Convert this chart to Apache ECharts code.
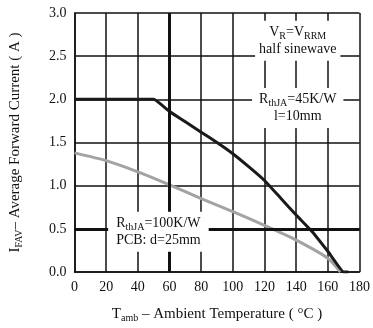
<!DOCTYPE html>
<html>
<head>
<meta charset="utf-8">
<script src="https://cdn.jsdelivr.net/npm/echarts@6/dist/echarts.min.js"></script>
<style>
  html, body { margin: 0; padding: 0; background: #fff; }
  #chart { width: 373px; height: 328px; }
</style>
</head>
<body>
<div id="chart"></div>
<script>
  // data
  var tempTicks = [0, 20, 40, 60, 80, 100, 120, 140, 160, 180]
  var currentTicks = [0, 0.5, 1.0, 1.5, 2.0, 2.5, 3.0]

  // RthJA = 45K/W, l = 10mm
  var temp45 = [0, 50, 60, 70, 80, 90, 100, 110, 120, 130, 140, 150, 160, 170, 173]
  var curr45 = [2.0, 2.0, 1.86, 1.74, 1.62, 1.5, 1.37, 1.22, 1.06, 0.86, 0.66, 0.47, 0.24, 0, 0]

  // RthJA = 100K/W, PCB d = 25mm
  var temp100 = [0, 20, 40, 60, 80, 100, 120, 140, 160, 168]
  var curr100 = [1.38, 1.29, 1.16, 1.01, 0.85, 0.70, 0.54, 0.37, 0.16, 0]

  var serif = '"Liberation Serif", "DejaVu Serif", serif'
  var sub = { fontSize: 10, fontFamily: serif, color: '#111', padding: [8, 0, 0, 0] }
  var subRich = { s: sub }

  function pairs(xs, ys) {
    return xs.map(function (x, i) { return [x, ys[i]] })
  }

  var chart = echarts.init(document.getElementById('chart'))
  chart.setOption({
    animation: false,
    grid: { left: 73, right: 10, top: 13, bottom: 56 },
    textStyle: { fontFamily: serif },
    xAxis: {
      type: 'value',
      min: 0,
      max: 180,
      interval: 20,
      axisLine: { show: true, lineStyle: { color: '#111', width: 1.5 } },
      axisTick: { show: false },
      splitLine: { show: true, lineStyle: { color: '#111', width: 1.5 } },
      axisLabel: { color: '#111', fontSize: 14, fontFamily: serif, margin: 8 },
      name: 'T{s|amb} – Ambient Temperature ( °C )',
      nameLocation: 'middle',
      nameGap: 33,
      nameTextStyle: { color: '#111', fontSize: 15, fontFamily: serif, rich: subRich }
    },
    yAxis: {
      type: 'value',
      min: 0,
      max: 3,
      interval: 0.5,
      axisLine: { show: true, lineStyle: { color: '#111', width: 1.5 } },
      axisTick: { show: false },
      splitLine: { show: true, lineStyle: { color: '#111', width: 1.5 } },
      axisLabel: {
        color: '#111', fontSize: 14, fontFamily: serif, margin: 8,
        formatter: function (v) { return v.toFixed(1) }
      },
      name: 'I{s|FAV}– Average Forward Current ( A )',
      nameLocation: 'middle',
      nameGap: 50,
      nameTextStyle: { color: '#111', fontSize: 15, fontFamily: serif, rich: subRich }
    },
    series: [
      {
        type: 'line',
        data: pairs(temp100, curr100),
        symbol: 'none',
        smooth: 0.2,
        lineStyle: { color: '#a3a3a3', width: 3 },
        z: 3
      },
      {
        type: 'line',
        data: pairs(temp45, curr45),
        symbol: 'none',
        smooth: 0.1,
        lineStyle: { color: '#1a1a1a', width: 3 },
        z: 4,
        markLine: {
          silent: true,
          symbol: 'none',
          label: { show: false },
          lineStyle: { color: '#111', width: 3, type: 'solid' },
          data: [{ xAxis: 60 }, { yAxis: 0.5 }]
        }
      }
    ]
  })

  // text boxes that cut the grid lines
  function box(x, y, lines, padH) {
    var p = chart.convertToPixel({ gridIndex: 0 }, [x, y])
    return {
      type: 'text',
      x: p[0],
      y: p[1],
      z: 100,
      style: {
        text: lines.join('\n'),
        rich: { s: sub },
        fontFamily: serif,
        fontSize: 14,
        fill: '#111',
        align: 'center',
        verticalAlign: 'middle',
        lineHeight: 17,
        backgroundColor: '#fff',
        padding: [3, padH, 3, padH]
      }
    }
  }

  chart.setOption({
    graphic: [
      box(141, 2.68, ['V{s|R}=V{s|RRM}', 'half sinewave'], 4),
      box(141, 1.9, ['R{s|thJA}=45K/W', 'l=10mm'], 7),
      box(53, 0.465, ['R{s|thJA}=100K/W', 'PCB: d=25mm'], 8)
    ]
  })
</script>
</body>
</html>
